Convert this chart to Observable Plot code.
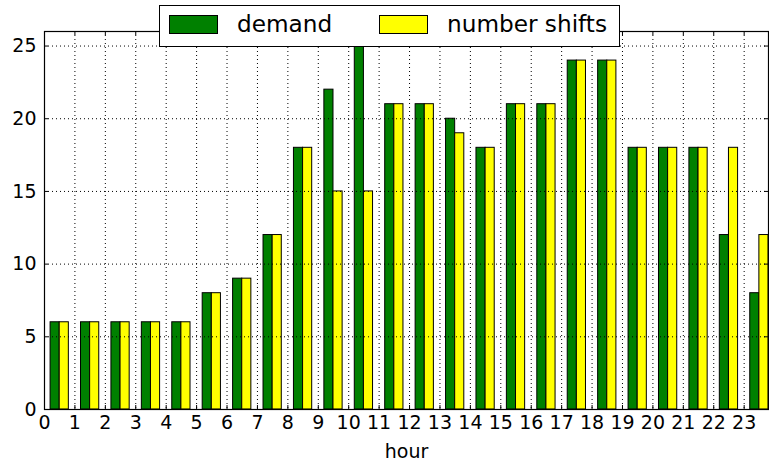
<!DOCTYPE html>
<html>
<head>
<meta charset="utf-8">
<script src="https://cdn.jsdelivr.net/npm/d3@7"></script>
<script src="https://cdn.jsdelivr.net/npm/@observablehq/plot@0.6"></script>
<style>
  html, body { margin: 0; padding: 0; background: #fff; }
  #wrap { position: relative; width: 769px; height: 461px; font-family: "DejaVu Sans", sans-serif; }
  #legend { position: absolute; left: 159px; top: 5px; width: 459px; height: 40px; background: #fff; border: 1px solid #000; }
  .sw { position: absolute; top: 9px; width: 47px; height: 17px; border: 1px solid #000; }
  .lt { position: absolute; top: 2px; font-size: 23.2px; line-height: 32px; color: #000; white-space: nowrap; }
</style>
</head>
<body>
<div id="wrap"></div>
<script>
const hours = d3.range(0, 24);
const demand = [6,6,6,6,6,8,9,12,18,22,26,21,21,20,18,21,21,24,24,18,18,18,12,8];
const shifts = [6,6,6,6,6,8,9,12,18,15,15,21,21,19,18,21,21,24,24,18,18,18,18,12];
const seriesNames = ["demand", "number shifts"];
const seriesColors = ["#008000", "#ffff00"];
const xTicks = d3.range(0, 24);
const yTicks = [0, 5, 10, 15, 20, 25];

const data = hours.map((h, i) => ({hour: h, demand: demand[i], shifts: shifts[i]}));

const W = 769, H = 461, mL = 44, mR = 1, mT = 31, mB = 52;
const fw = W - mL - mR, fh = H - mT - mB, tl = 4;

const grid = {stroke: "#000", strokeOpacity: 1, strokeWidth: 1, strokeDasharray: "1,3"};

const chart = Plot.plot({
  width: W, height: H,
  marginLeft: mL, marginRight: mR, marginTop: mT, marginBottom: mB,
  style: {fontFamily: "DejaVu Sans, sans-serif", fontSize: "19px", color: "#000", background: "#fff"},
  x: {domain: [0, 23.8]},
  y: {domain: [0, 26]},
  marks: [
    Plot.rectY(data, {x1: d => d.hour + 0.2, x2: d => d.hour + 0.5, y1: 0, y2: "demand", fill: seriesColors[0], stroke: "#000", strokeWidth: 1, clip: true}),
    Plot.rectY(data, {x1: d => d.hour + 0.5, x2: d => d.hour + 0.8, y1: 0, y2: "shifts", fill: seriesColors[1], stroke: "#000", strokeWidth: 1, clip: true}),
    Plot.gridX(xTicks, grid),
    Plot.gridY(yTicks, grid),
    Plot.tickX(xTicks, {x: d => d, insetTop: fh - tl, stroke: "#000"}),
    Plot.tickX(xTicks, {x: d => d, insetBottom: fh - tl, stroke: "#000"}),
    Plot.tickY(yTicks, {y: d => d, insetRight: fw - tl, stroke: "#000"}),
    Plot.tickY(yTicks, {y: d => d, insetLeft: fw - tl, stroke: "#000"}),
    Plot.frame({stroke: "#000", strokeWidth: 1.2}),
    Plot.axisX({ticks: xTicks, tickSize: 0, tickPadding: 6, tickFormat: d => String(d), label: "hour", labelAnchor: "center", labelOffset: 48, labelArrow: "none"}),
    Plot.axisY({ticks: yTicks, tickSize: 0, tickPadding: 8, tickFormat: d => String(d), label: null})
  ]
});

const wrap = document.getElementById("wrap");
wrap.appendChild(chart);

const legend = document.createElement("div");
legend.id = "legend";
const swX = [9, 219];
const txX = [77, 287];
seriesNames.forEach((name, i) => {
  const sw = document.createElement("div");
  sw.className = "sw";
  sw.style.left = swX[i] + "px";
  sw.style.background = seriesColors[i];
  legend.appendChild(sw);
  const t = document.createElement("div");
  t.className = "lt";
  t.style.left = txX[i] + "px";
  t.textContent = name;
  legend.appendChild(t);
});
wrap.appendChild(legend);
</script>
</body>
</html>
